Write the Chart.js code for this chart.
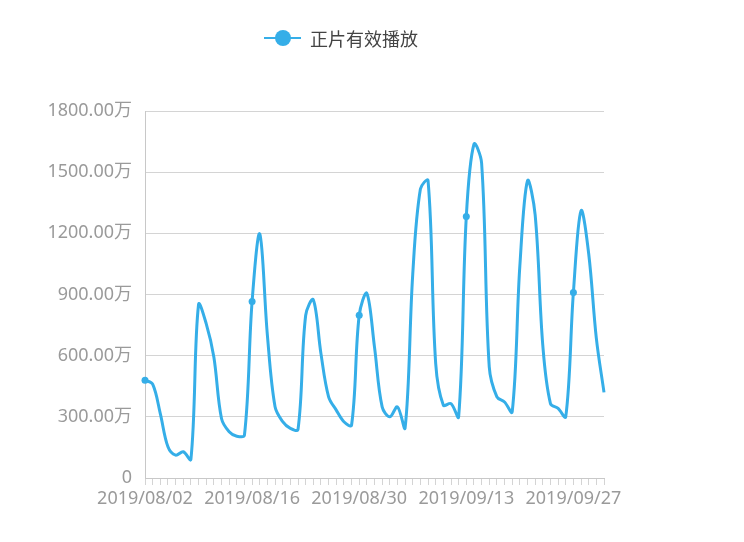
<!DOCTYPE html>
<html>
<head>
<meta charset="utf-8">
<script src="https://cdn.jsdelivr.net/npm/chart.js@4.4.0/dist/chart.umd.min.js"></script>
<style>
  html, body { margin: 0; padding: 0; background: #fff; }
  #wrap { position: relative; width: 744px; height: 542px; }
  #legend {
    position: absolute; left: 264px; top: 26px; height: 24px;
    font-family: "Noto Sans CJK SC", "Noto Sans", sans-serif;
    font-size: 18px; color: #444; line-height: 24px;
  }
  #legend .line { position: absolute; left: 0; top: 11px; width: 37px; height: 2px; background: #35aee8; }
  #legend .dot { position: absolute; left: 11px; top: 4px; width: 16px; height: 16px; border-radius: 50%; background: #35aee8; }
  #legend .txt { position: absolute; left: 46px; top: 0; white-space: nowrap; }
</style>
</head>
<body>
<div id="wrap">
  <canvas id="chart" width="744" height="542"></canvas>
  <div id="legend"><span class="line"></span><span class="dot"></span><span class="txt">正片有效播放</span></div>
</div>
<script>
// daily dates 2019/08/02 .. 2019/10/01
const dates = [
  '2019/08/02','2019/08/03','2019/08/04','2019/08/05','2019/08/06','2019/08/07','2019/08/08',
  '2019/08/09','2019/08/10','2019/08/11','2019/08/12','2019/08/13','2019/08/14','2019/08/15',
  '2019/08/16','2019/08/17','2019/08/18','2019/08/19','2019/08/20','2019/08/21','2019/08/22',
  '2019/08/23','2019/08/24','2019/08/25','2019/08/26','2019/08/27','2019/08/28','2019/08/29',
  '2019/08/30','2019/08/31','2019/09/01','2019/09/02','2019/09/03','2019/09/04','2019/09/05',
  '2019/09/06','2019/09/07','2019/09/08','2019/09/09','2019/09/10','2019/09/11','2019/09/12',
  '2019/09/13','2019/09/14','2019/09/15','2019/09/16','2019/09/17','2019/09/18','2019/09/19',
  '2019/09/20','2019/09/21','2019/09/22','2019/09/23','2019/09/24','2019/09/25','2019/09/26',
  '2019/09/27','2019/09/28','2019/09/29','2019/09/30','2019/10/01'
];

// 正片有效播放 (万)
const plays = [
  480, 460, 316, 153, 112, 129, 91,
  851, 757, 594, 292, 227, 205, 210,
  866, 1197, 700, 349, 276, 243, 238,
  797, 874, 610, 398, 333, 276, 259,
  798, 906, 642, 349, 300, 349, 246,
  1000, 1417, 1458, 561, 357, 365, 300,
  1282, 1637, 1545, 545, 398, 373, 324,
  1040, 1458, 1290, 650, 365, 341, 300,
  910, 1311, 1100, 685, 420
];

const yTicks = [0, 300, 600, 900, 1200, 1500, 1800];
const labelEvery = 14;

const lineColor = '#35aee8';
const gridColor = '#d4d4d4';
const textColor = '#9a9a9a';
const font = { family: '"Noto Sans", "Noto Sans CJK SC", sans-serif', size: 18 };

new Chart(document.getElementById('chart'), {
  type: 'line',
  data: {
    labels: dates,
    datasets: [{
      label: '正片有效播放',
      data: plays,
      borderColor: lineColor,
      backgroundColor: lineColor,
      borderWidth: 3,
      tension: 0.35,
      pointRadius: plays.map((v, i) => i % labelEvery === 0 ? 3.5 : 0),
      pointBorderWidth: 0,
      pointBackgroundColor: lineColor,
      fill: false
    }]
  },
  options: {
    responsive: false,
    animation: false,
    layout: { padding: { left: 0, right: 140, top: 111, bottom: 22 } },
    plugins: { legend: { display: false }, tooltip: { enabled: false } },
    scales: {
      x: {
        offset: false,
        grid: { drawOnChartArea: false, drawTicks: true, tickLength: 7, color: gridColor },
        border: { color: '#c8c8c8', width: 1 },
        ticks: {
          autoSkip: false, maxRotation: 0, padding: 3,
          color: textColor, font,
          callback: (v, i) => i % labelEvery === 0 ? dates[i] : ''
        },
        afterFit: s => { s.height = 42; }
      },
      y: {
        min: 0, max: 1800,
        afterBuildTicks: s => { s.ticks = yTicks.map(v => ({ value: v })); },
        grid: { color: gridColor, drawTicks: false },
        border: { color: '#c8c8c8', width: 1 },
        ticks: {
          color: textColor, font, padding: 13,
          callback: v => v === 0 ? '0' : v.toFixed(2) + '万'
        },
        afterFit: s => { s.width = 145; }
      }
    }
  }
});
</script>
</body>
</html>
